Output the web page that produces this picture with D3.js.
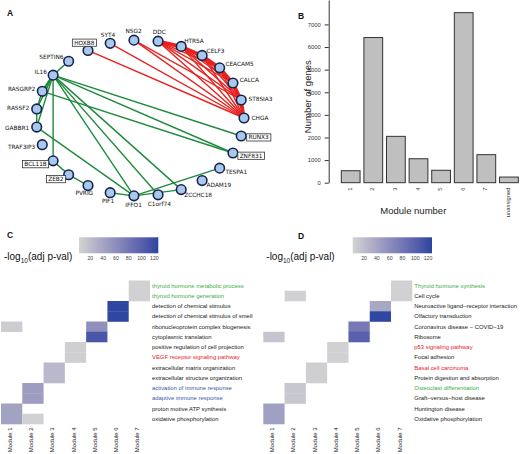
<!DOCTYPE html>
<html>
<head>
<meta charset="utf-8">
<script src="https://cdn.jsdelivr.net/npm/d3@7"></script>
<style>
  body { margin: 0; background: #fff; }
  svg { display: block; font-family: "Liberation Sans", Arial, sans-serif; }
</style>
</head>
<body>
<svg id="chart" width="520" height="454"></svg>
<script>
// ---------- panel A : co-expression network ----------
// nodes in ring order, clockwise starting at the right-most node
var nodeOrder = ["CHGA", "RUNX3", "ZNF831", "TESPA1", "ADAM19", "ZCCHC18", "C1orf74", "IFFO1",
  "PIF1", "PVRIG", "ZEB2", "BCL11B", "TRAF3IP3", "GABBR1", "RASSF2", "RASGRP2", "IL16",
  "SEPTIN6", "HOXB8", "SYT4", "NSG2", "DDC", "HTR5A", "CELF3", "CEACAM5", "CALCA", "ST8SIA3"];
var boxedGenes = ["HOXB8", "BCL11B", "ZEB2", "ZNF831", "RUNX3"];

// [source, target, weight]
var redEdges = [
  ["HOXB8", "CHGA", 1], ["SYT4", "CHGA", 1], ["NSG2", "CHGA", 1], ["NSG2", "ST8SIA3", 1],
  ["DDC", "HTR5A", 3], ["DDC", "CELF3", 1], ["DDC", "CEACAM5", 1], ["DDC", "CALCA", 1], ["DDC", "ST8SIA3", 1], ["DDC", "CHGA", 1],
  ["HTR5A", "CELF3", 3], ["HTR5A", "CEACAM5", 1], ["HTR5A", "CALCA", 1], ["HTR5A", "ST8SIA3", 1], ["HTR5A", "CHGA", 1],
  ["CELF3", "CEACAM5", 3], ["CELF3", "CALCA", 1], ["CELF3", "ST8SIA3", 1], ["CELF3", "CHGA", 1],
  ["CEACAM5", "CALCA", 3], ["CEACAM5", "ST8SIA3", 1], ["CEACAM5", "CHGA", 1],
  ["CALCA", "ST8SIA3", 3], ["CALCA", "CHGA", 1], ["ST8SIA3", "CHGA", 3]
];
var greenEdges = [
  ["IL16", "SEPTIN6", 1], ["IL16", "RASGRP2", 2], ["IL16", "RASSF2", 1], ["IL16", "GABBR1", 1],
  ["RASGRP2", "RASSF2", 1], ["RASSF2", "GABBR1", 1],
  ["IL16", "BCL11B", 1], ["IL16", "RUNX3", 1], ["IL16", "ZNF831", 1], ["IL16", "ZCCHC18", 1],
  ["IL16", "C1orf74", 1], ["IL16", "IFFO1", 1], ["RASGRP2", "ZNF831", 1], ["GABBR1", "IFFO1", 1],
  ["BCL11B", "ZEB2", 1], ["ZEB2", "PVRIG", 1], ["PIF1", "IFFO1", 1], ["IFFO1", "TESPA1", 1],
  ["IFFO1", "ZCCHC18", 1]
];

// ---------- panel B : module sizes ----------
var modules = ["1", "2", "3", "4", "5", "6", "7", "unassigned"];
var moduleSizes = [530, 6420, 2050, 1060, 550, 7520, 1240, 250];
var sizeTicks = [0, 1000, 2000, 3000, 4000, 5000, 6000, 7000];

// ---------- panels C and D : enrichment heatmaps ----------
var heatModules = ["Module 1", "Module 2", "Module 3", "Module 4", "Module 5", "Module 6", "Module 7"];
var legendTicks = [20, 40, 60, 80, 100, 120];

var termsC = ["thyroid hormone metabolic process", "thyroid hormone generation",
  "detection of chemical stimulus", "detection of chemical stimulus of smell",
  "ribonucleoprotein complex biogenesis", "cytoplasmic translation",
  "positive regulation of cell projection", "VEGF receptor signaling pathway",
  "extracellular matrix organization", "extracellular structure organization",
  "activation of immune response", "adaptive immune response",
  "proton motive ATP synthesis", "oxidative phosphorylation"];
var termGroupC = ["thyroid", "thyroid", "other", "other", "other", "other", "other", "cancer",
  "other", "other", "immune", "immune", "other", "other"];
// [module index, term index, -log10(adj p)]
var cellsC = [[6, 0, 5], [6, 1, 5], [5, 2, 125], [5, 3, 125], [0, 4, 8], [4, 4, 58], [4, 5, 110],
  [3, 6, 6], [3, 7, 6], [2, 8, 24], [2, 9, 24], [1, 10, 47], [1, 11, 47], [0, 12, 43], [0, 13, 43], [1, 13, 5]];

var termsD = ["Thyroid hormone synthesis", "Cell cycle", "Neuroactive ligand\u2212receptor interaction",
  "Olfactory transduction", "Coronavirus disease \u2212 COVID\u221219", "Ribosome",
  "p53 signaling pathway", "Focal adhesion", "Basal cell carcinoma", "Protein digestion and absorption",
  "Osteoclast differentiation", "Graft\u2212versus\u2212host disease", "Huntington disease",
  "Oxidative phosphorylation"];
var termGroupD = ["thyroid", "other", "other", "other", "other", "other", "cancer", "other", "cancer",
  "other", "thyroid", "other", "other", "other"];
var cellsD = [[6, 0, 5], [6, 1, 5], [1, 1, 5], [5, 2, 38], [5, 3, 125], [4, 4, 78], [4, 5, 100], [0, 5, 14],
  [3, 6, 5], [3, 7, 5], [2, 8, 6], [2, 9, 6], [1, 10, 13], [1, 11, 13], [0, 12, 45], [0, 13, 45]];

var groupColor = { thyroid: "#3aad48", cancer: "#e8202a", immune: "#3a59ad", other: "#1a1a1a" };

var svg = d3.select("#chart");
svg.append("rect").attr("width", 520).attr("height", 454).attr("fill", "#fff");

function panelLabel(t, x, y) {
  svg.append("text").text(t).attr("x", x).attr("y", y)
    .attr("font-size", 8.5).attr("font-weight", "bold").attr("fill", "#111");
}
panelLabel("A", 7, 15.5);
panelLabel("B", 298, 18.5);
panelLabel("C", 7, 237.5);
panelLabel("D", 298, 239);

// ================= A =================
var ang = d3.scaleLinear().domain([0, nodeOrder.length]).range([0, 2 * Math.PI]);
var nx = d3.scaleLinear().domain([-1, 1]).range([36, 244]);
var ny = d3.scaleLinear().domain([-1, 1]).range([40, 196]);
var pos = {};
nodeOrder.forEach(function(n, i) {
  var a = ang(i);
  pos[n] = { x: nx(Math.cos(a)), y: ny(Math.sin(a)), a: a };
});

var net = svg.append("g");
function drawEdges(list, color) {
  net.selectAll(null).data(list).enter().append("line")
    .attr("x1", function(d) { return pos[d[0]].x; })
    .attr("y1", function(d) { return pos[d[0]].y; })
    .attr("x2", function(d) { return pos[d[1]].x; })
    .attr("y2", function(d) { return pos[d[1]].y; })
    .attr("stroke", color)
    .attr("stroke-width", function(d) { return 1.4 + (d[2] - 1) * 0.9; })
    .attr("stroke-linecap", "round");
}
drawEdges(greenEdges, "#1f8a3d");
drawEdges(redEdges, "#e8221e");

net.selectAll("circle").data(nodeOrder).enter().append("circle")
  .attr("cx", function(d) { return pos[d].x; })
  .attr("cy", function(d) { return pos[d].y; })
  .attr("r", 4.8)
  .attr("fill", "#a9c9ec")
  .attr("stroke", "#16244f")
  .attr("stroke-width", 1.6);

var labels = net.selectAll("g.lab").data(nodeOrder).enter().append("g").attr("class", "lab");
labels.each(function(d) {
  var p = pos[d], c = Math.cos(p.a), s = Math.sin(p.a);
  var anchor = c > 0.25 ? "start" : (c < -0.55 ? "end" : "middle");
  var dist = anchor === "middle" ? 9 : 6;
  var g = d3.select(this);
  var t = g.append("text").text(d)
    .attr("x", p.x + c * 7.5)
    .attr("y", p.y + s * dist)
    .attr("dy", "0.35em")
    .attr("text-anchor", anchor)
    .attr("font-family", "'DejaVu Sans', sans-serif")
    .attr("font-size", 5.8)
    .attr("fill", "#111");
  if (boxedGenes.indexOf(d) >= 0) {
    var b = t.node().getBBox();
    g.insert("rect", "text")
      .attr("x", b.x - 1.8).attr("y", b.y - 0.6)
      .attr("width", b.width + 3.6).attr("height", b.height + 1.2)
      .attr("fill", "#fff").attr("stroke", "#333").attr("stroke-width", 0.8);
  }
});

// ================= B =================
var bx = d3.scaleBand().domain(modules).range([341.3, 518.3]).paddingInner(0.17).paddingOuter(0);
var by = d3.scaleLinear().domain([0, 8080]).range([182.7, 0]);

var bars = svg.append("g");
bars.selectAll("rect").data(modules).enter().append("rect")
  .attr("x", function(d) { return bx(d); })
  .attr("y", function(d, i) { return by(moduleSizes[i]); })
  .attr("width", bx.bandwidth())
  .attr("height", function(d, i) { return by(0) - by(moduleSizes[i]); })
  .attr("fill", "#bfbfbf")
  .attr("stroke", "#333")
  .attr("stroke-width", 1);

var yAxis = svg.append("g")
  .attr("transform", "translate(328.7,0)")
  .call(d3.axisLeft(by).tickValues(sizeTicks).tickFormat(d3.format("d"))
    .tickSize(4).tickSizeOuter(0).tickPadding(4));
yAxis.selectAll("text").attr("font-size", 5.8).attr("fill", "#333").attr("font-family", "'Liberation Sans', Arial, sans-serif");
yAxis.selectAll("line, path").attr("stroke", "#333");

bars.selectAll("text.mod").data(modules).enter().append("text")
  .attr("class", "mod")
  .text(function(d) { return d; })
  .attr("transform", function(d) { return "translate(" + (bx(d) + bx.bandwidth() / 2 - 1) + ",187.5) rotate(-90)"; })
  .attr("dy", "0.35em")
  .attr("text-anchor", "end")
  .attr("font-size", 5.8)
  .attr("fill", "#333");

svg.append("text").text("Number of genes")
  .attr("transform", "translate(307.7,96.7) rotate(-90)")
  .attr("text-anchor", "middle").attr("dy", "0.35em")
  .attr("font-size", 9.5).attr("fill", "#222");
svg.append("text").text("Module number")
  .attr("x", 413.3).attr("y", 213.5)
  .attr("text-anchor", "middle")
  .attr("font-size", 9.5).attr("fill", "#222");

// ================= C & D =================
var color = d3.scaleLinear().domain([3, 127]).range(["#d3d3d3", "#2c45a0"]).interpolate(d3.interpolateLab);

var defs = svg.append("defs");
var grad = defs.append("linearGradient").attr("id", "cbar");
d3.range(0, 1.0001, 0.1).forEach(function(t) {
  grad.append("stop").attr("offset", t).attr("stop-color", color(3 + t * 124));
});

function heatPanel(ox, legendX, terms, groups, cells) {
  var g = svg.append("g");
  // legend
  var lx = d3.scaleLinear().domain([3, 127]).range([legendX, legendX + 79.3]);
  g.append("rect").attr("x", legendX).attr("y", 237.3).attr("width", 79.3).attr("height", 16)
    .attr("fill", "url(#cbar)");
  var la = g.append("g").attr("transform", "translate(0,253.3)")
    .call(d3.axisBottom(lx).tickValues(legendTicks).tickSize(0).tickPadding(3.5));
  la.select(".domain").remove();
  la.selectAll("text").attr("font-size", 5.2).attr("fill", "#444");
  var title = g.append("text").attr("x", ox + 3).attr("y", 260)
    .attr("font-size", 10).attr("fill", "#111");
  title.append("tspan").text("-log");
  title.append("tspan").text("10").attr("font-size", 6.5).attr("dy", 2.5);
  title.append("tspan").text("(adj p-val)").attr("dy", -2.5);

  // heatmap
  var hx = d3.scaleBand().domain(heatModules).range([ox, ox + 149]);
  var hy = d3.scaleBand().domain(terms).range([280.5, 424]);
  g.selectAll("rect.cell").data(cells).enter().append("rect")
    .attr("class", "cell")
    .attr("x", function(d) { return hx(heatModules[d[0]]); })
    .attr("y", function(d) { return hy(terms[d[1]]); })
    .attr("width", hx.bandwidth())
    .attr("height", hy.bandwidth() + 0.3)
    .attr("fill", function(d) { return color(d[2]); });

  g.selectAll("text.term").data(terms).enter().append("text")
    .attr("class", "term")
    .text(function(d) { return d; })
    .attr("x", ox + 151)
    .attr("y", function(d) { return hy(d) + hy.bandwidth() / 2; })
    .attr("dy", "0.35em")
    .attr("font-size", 5.9)
    .attr("fill", function(d, i) { return groupColor[groups[i]]; });

  g.selectAll("text.hmod").data(heatModules).enter().append("text")
    .attr("class", "hmod")
    .text(function(d) { return d; })
    .attr("transform", function(d) { return "translate(" + (hx(d) + hx.bandwidth() / 2 - 2) + ",427.5) rotate(-90)"; })
    .attr("dy", "0.35em")
    .attr("text-anchor", "end")
    .attr("font-size", 6)
    .attr("fill", "#222");
}
heatPanel(1, 79, termsC, termGroupC, cellsC);
heatPanel(263.3, 352.7, termsD, termGroupD, cellsD);
</script>
</body>
</html>
